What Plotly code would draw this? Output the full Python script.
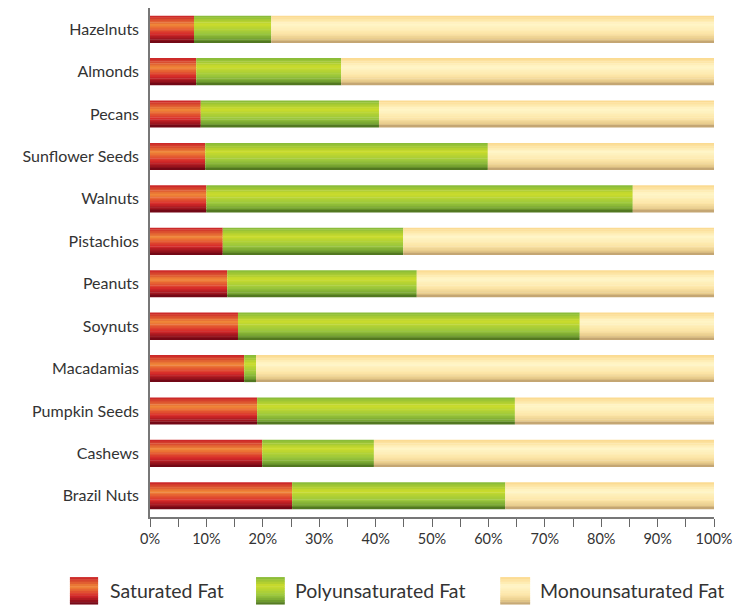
import plotly.graph_objects as go

categories = ["Hazelnuts", "Almonds", "Pecans", "Sunflower Seeds", "Walnuts", "Pistachios",
              "Peanuts", "Soynuts", "Macadamias", "Pumpkin Seeds", "Cashews", "Brazil Nuts"]
saturated = [7.8, 8.2, 9.0, 9.8, 10.0, 12.9, 13.7, 15.6, 16.7, 19.0, 19.9, 25.2]
polyunsaturated = [13.7, 25.7, 31.6, 50.1, 75.6, 32.0, 33.6, 60.6, 2.1, 45.7, 19.8, 37.8]
monounsaturated = [round(100 - s - p, 1) for s, p in zip(saturated, polyunsaturated)]

series_names = ["Saturated Fat", "Polyunsaturated Fat", "Monounsaturated Fat"]
series_values = [saturated, polyunsaturated, monounsaturated]

# vertical gradient stops (position from top, colour)
gradients = [
    [(0.0, (200, 32, 40)), (0.35, (240, 136, 56)), (0.68, (214, 40, 42)), (1.0, (104, 4, 20))],
    [(0.0, (132, 184, 58)), (0.32, (204, 220, 44)), (0.65, (156, 200, 60)), (0.85, (118, 164, 50)), (1.0, (72, 108, 28))],
    [(0.0, (251, 216, 140)), (0.32, (255, 246, 200)), (0.65, (253, 230, 168)), (0.85, (232, 204, 140)), (1.0, (186, 156, 108))],
]


def grad_color(stops, t):
    for (t0, c0), (t1, c1) in zip(stops, stops[1:]):
        if t0 <= t <= t1:
            f = (t - t0) / (t1 - t0) if t1 > t0 else 0
            c = [round(a + (b - a) * f) for a, b in zip(c0, c1)]
            return "rgb(%d,%d,%d)" % tuple(c)
    c = stops[-1][1]
    return "rgb(%d,%d,%d)" % tuple(c)


N = 16
bar_th = 0.64
band = bar_th / N

fig = go.Figure()
bases = [0.0] * len(categories)
for si, (name, vals) in enumerate(zip(series_names, series_values)):
    for i in range(N):
        t = (i + 0.5) / N
        fig.add_trace(go.Bar(
            y=categories, x=vals, base=bases, orientation="h",
            offset=-bar_th / 2 + i * band, width=band * 1.25 if i < N - 1 else band,
            marker=dict(color=grad_color(gradients[si], t), line=dict(width=0)),
            showlegend=False, hoverinfo="skip", name=name,
        ))
    bases = [b + v for b, v in zip(bases, vals)]

# custom legend (gradient swatches + labels)
leg_x = [(-0.142, -0.092, -0.075), (0.188, 0.239, 0.254), (0.621, 0.674, 0.688)]
y_top, y_bot = -0.118, -0.172
M = 12
for si, (x0, x1, xt) in enumerate(leg_x):
    for i in range(M):
        t = (i + 0.5) / M
        ya = y_top + (y_bot - y_top) * i / M
        yb = y_top + (y_bot - y_top) * (i + 1.2) / M if i < M - 1 else y_bot
        fig.add_shape(type="rect", xref="paper", yref="paper", x0=x0, x1=x1, y0=ya, y1=yb,
                      fillcolor=grad_color(gradients[si], t), line=dict(width=0), layer="above")
    fig.add_annotation(xref="paper", yref="paper", x=xt, y=(y_top + y_bot) / 2,
                       text=series_names[si], showarrow=False, xanchor="left", yanchor="middle",
                       font=dict(size=19.5, color="#333333"))

tickvals = list(range(0, 101, 5))
ticktext = [f"{v}%" if v % 10 == 0 else "" for v in tickvals]

fig.update_layout(
    width=734, height=605,
    margin=dict(l=150, r=20, t=8, b=88, autoexpand=False),
    paper_bgcolor="white", plot_bgcolor="white",
    barmode="overlay",
    font=dict(family="Lato, 'Open Sans', sans-serif", color="#333333"),
    xaxis=dict(range=[0, 100], tickvals=tickvals, ticktext=ticktext, ticks="outside",
               ticklen=8, tickcolor="#666666", tickwidth=1, showgrid=False, zeroline=False,
               automargin=False,
               showline=True, linecolor="#777777", linewidth=1.5, tickfont=dict(size=14.5, color="#333333")),
    yaxis=dict(autorange="reversed", showgrid=False, zeroline=False, showline=True,
               automargin=False,
               linecolor="#777777", linewidth=1.5, ticks="", ticklabelstandoff=6,
               tickfont=dict(size=16, color="#333333")),
)

fig.write_html("out.html")
